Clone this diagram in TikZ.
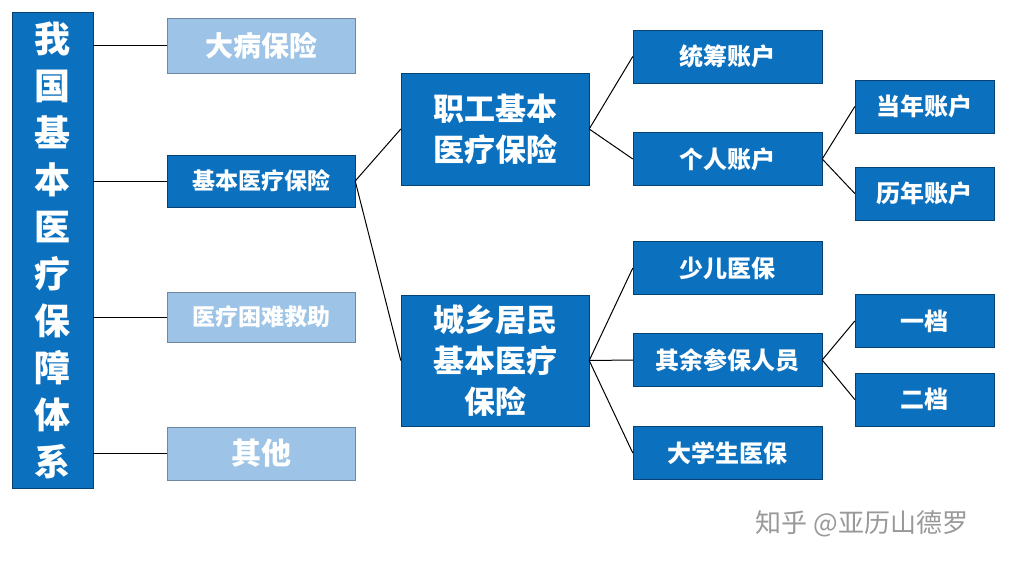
\documentclass[tikz,border=0pt]{standalone}
\usepackage{fontspec}
\setmainfont{Noto Sans CJK SC}
\definecolor{db}{HTML}{0B70BE}
\definecolor{lb}{HTML}{9DC3E6}
\begin{document}
\begin{tikzpicture}[x=1pt,y=-1pt,
 box/.style={draw=db!60!black,line width=0.4pt,fill=db,text=white,font=\bfseries,align=center,inner sep=0pt},
 lbox/.style={box,fill=lb,draw=lb!70!black},
 ln/.style={line width=1pt}]
\useasboundingbox (0,0) rectangle (1010,566);
\node[box,minimum width=81,minimum height=476,font=\bfseries\fontsize{36}{47}\selectfont] (m) at (52.5,250) {我\\国\\基\\本\\医\\疗\\保\\障\\体\\系};
\node[lbox,minimum width=188,minimum height=55,font=\bfseries\fontsize{28}{30}\selectfont] (a1) at (261,45.5) {大病保险};
\node[box,minimum width=188,minimum height=52,font=\bfseries\fontsize{23}{26}\selectfont] (a2) at (261,181) {基本医疗保险};
\node[lbox,minimum width=188,minimum height=50,font=\bfseries\fontsize{23}{26}\selectfont] (a3) at (261,317) {医疗困难救助};
\node[lbox,minimum width=188,minimum height=53,font=\bfseries\fontsize{30}{32}\selectfont] (a4) at (261,453.5) {其他};
\node[box,minimum width=188,minimum height=112,font=\bfseries\fontsize{31}{41}\selectfont] (b1) at (495,129) {职工基本\\医疗保险};
\node[box,minimum width=188,minimum height=131,font=\bfseries\fontsize{31}{41}\selectfont] (b2) at (495,360.5) {城乡居民\\基本医疗\\保险};
\tikzset{c3/.style={box,minimum width=189,minimum height=53,font=\bfseries\fontsize{24}{26}\selectfont},
 c4/.style={box,minimum width=139,minimum height=53,font=\bfseries\fontsize{24}{26}\selectfont}}
\node[c3] (c1) at (727.5,56.5) {统筹账户};
\node[c3] (c2) at (727.5,159) {个人账户};
\node[c3] (c3) at (727.5,268) {少儿医保};
\node[c3] (c4) at (727.5,360) {其余参保人员};
\node[c3] (c5) at (727.5,453) {大学生医保};
\node[c4] (d1) at (924.5,106.5) {当年账户};
\node[c4] (d2) at (924.5,193.5) {历年账户};
\node[c4] (d3) at (924.5,321) {一档};
\node[c4] (d4) at (924.5,399.5) {二档};
\foreach \t in {a1,a2,a3,a4} \draw[ln] (m.east|-\t.west) -- (\t.west);
\draw[ln] (a2.east) -- (b1.west);
\draw[ln] (a2.east) -- (b2.west);
\draw[ln] (b1.east) -- (c1.west);
\draw[ln] (b1.east) -- (c2.west);
\draw[ln] (b2.east) -- (c3.west);
\draw[ln] (b2.east) -- (c4.west);
\draw[ln] (b2.east) -- (c5.west);
\draw[ln] (c2.east) -- (d1.west);
\draw[ln] (c2.east) -- (d2.west);
\draw[ln] (c4.east) -- (d3.west);
\draw[ln] (c4.east) -- (d4.west);
\node[text=black!40,font=\fontsize{26}{30}\selectfont] (w) at (862,524) {知乎 @亚历山德罗};
\end{tikzpicture}
\end{document}
